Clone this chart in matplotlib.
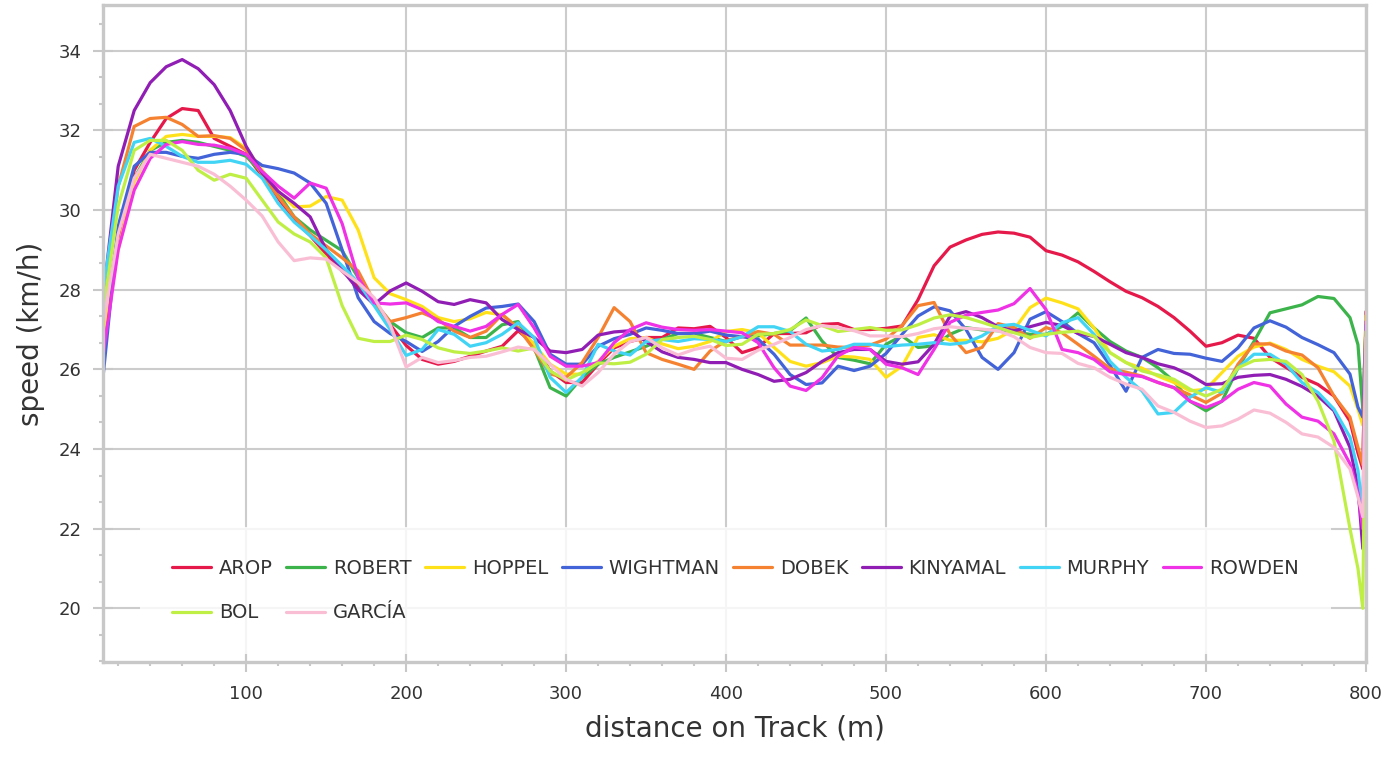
import matplotlib
matplotlib.use('Agg')
import matplotlib.pyplot as plt
from matplotlib.ticker import MultipleLocator, AutoMinorLocator

# distance along the track (m)
distance = [10, 20, 30, 40, 50, 60, 70, 80, 90, 100,
            110, 120, 130, 140, 150, 160, 170, 180, 190, 200,
            210, 220, 230, 240, 250, 260, 270, 280, 290, 300,
            310, 320, 330, 340, 350, 360, 370, 380, 390, 400,
            410, 420, 430, 440, 450, 460, 470, 480, 490, 500,
            510, 520, 530, 540, 550, 560, 570, 580, 590, 600,
            610, 620, 630, 640, 650, 660, 670, 680, 690, 700,
            710, 720, 730, 740, 750, 760, 770, 780, 790,
            795, 798, 800]

arop = [26.4, 29.3, 31.0, 31.7, 32.3, 32.55, 32.5, 31.8, 31.6, 31.4,
        30.85, 30.3, 29.75, 29.36, 28.9, 28.47, 28.1, 27.7, 27.12, 26.6,
        26.25, 26.13, 26.2, 26.33, 26.46, 26.58, 26.97, 26.63, 25.96, 25.67,
        25.67, 26.13, 26.54, 26.7, 26.8, 26.8, 27.04, 27.02, 27.08, 26.8,
        26.42, 26.55, 26.9, 26.9, 26.92, 27.13, 27.15, 27.0, 27.0, 27.03,
        27.09, 27.75, 28.6, 29.07, 29.25, 29.39, 29.45, 29.42, 29.32, 28.98,
        28.87, 28.7, 28.46, 28.2, 27.96, 27.8, 27.58, 27.3, 26.96, 26.58,
        26.67, 26.86, 26.78, 26.3, 26.05, 25.8, 25.62, 25.33, 24.7,
        23.9, 23.5, 27.45]

robert = [26.8, 29.5, 30.8, 31.5, 31.7, 31.75, 31.7, 31.6, 31.5, 31.35,
          30.93, 30.42, 29.83, 29.5, 29.24, 28.98, 28.3, 27.7, 27.2, 26.92,
          26.8, 27.04, 27.04, 26.8, 26.8, 27.12, 27.2, 26.54, 25.54, 25.33,
          25.8, 26.13, 26.3, 26.44, 26.58, 26.75, 26.9, 26.9, 26.8, 26.7,
          26.83, 26.84, 26.9, 26.97, 27.29, 26.71, 26.3, 26.23, 26.14, 26.63,
          26.84, 26.55, 26.59, 26.88, 27.05, 26.99, 26.97, 26.94, 26.88, 26.88,
          27.08, 27.42, 27.04, 26.7, 26.46, 26.3, 26.04, 25.7, 25.2, 24.96,
          25.2, 26.04, 26.7, 27.42, 27.52, 27.62, 27.83, 27.78, 27.3,
          26.62, 25.0, 27.1]

hoppel = [26.8, 29.0, 30.7, 31.5, 31.85, 31.9, 31.85, 31.85, 31.82, 31.55,
          31.0, 30.47, 30.08, 30.1, 30.34, 30.25, 29.5, 28.3, 27.9, 27.75,
          27.58, 27.3, 27.2, 27.27, 27.43, 27.37, 27.04, 26.63, 26.13, 25.88,
          25.88, 26.2, 26.58, 26.77, 26.8, 26.64, 26.52, 26.58, 26.7, 26.95,
          27.0, 26.92, 26.55, 26.2, 26.08, 26.17, 26.33, 26.31, 26.25, 25.8,
          26.08, 26.8, 26.87, 26.73, 26.73, 26.69, 26.78, 27.0, 27.55, 27.79,
          27.67, 27.52, 27.04, 26.42, 26.17, 26.03, 25.83, 25.67, 25.46, 25.5,
          25.92, 26.33, 26.56, 26.66, 26.5, 26.25, 26.08, 25.94, 25.58,
          25.0, 24.6, 27.35]

wightman = [25.6, 29.6, 31.1, 31.45, 31.45, 31.35, 31.3, 31.4, 31.45, 31.4,
            31.12, 31.04, 30.93, 30.68, 30.17, 29.0, 27.8, 27.2, 26.9, 26.7,
            26.45, 26.7, 27.08, 27.33, 27.54, 27.58, 27.64, 27.2, 26.38, 26.13,
            26.13, 26.58, 26.77, 26.88, 27.04, 26.98, 26.9, 26.9, 26.96, 26.86,
            26.82, 26.76, 26.38, 25.87, 25.62, 25.66, 26.08, 25.97, 26.08, 26.4,
            26.88, 27.34, 27.57, 27.47, 27.0, 26.3, 26.0, 26.42, 27.26, 27.45,
            27.2, 26.9, 26.67, 26.1, 25.45, 26.3, 26.5, 26.4, 26.38, 26.28,
            26.2, 26.54, 27.04, 27.22, 27.06, 26.8, 26.62, 26.42, 25.88,
            25.05, 24.8, 27.1]

dobek = [27.5, 30.6, 32.1, 32.3, 32.33, 32.15, 31.85, 31.87, 31.8, 31.5,
         30.9, 30.34, 29.83, 29.4, 29.1, 28.8, 28.47, 27.7, 27.2, 27.3,
         27.42, 27.25, 26.96, 26.8, 26.96, 27.38, 27.04, 26.5, 25.88, 25.8,
         26.17, 26.8, 27.55, 27.2, 26.42, 26.25, 26.13, 26.0, 26.46, 26.72,
         26.82, 26.95, 26.88, 26.61, 26.61, 26.61, 26.56, 26.55, 26.61, 26.76,
         27.1, 27.6, 27.68, 26.88, 26.42, 26.55, 27.15, 27.05, 26.78, 27.05,
         26.92, 26.63, 26.33, 26.02, 25.93, 25.83, 25.67, 25.54, 25.36, 25.17,
         25.4, 26.13, 26.64, 26.64, 26.46, 26.36, 26.04, 25.33, 24.8,
         24.04, 23.6, 27.2]

kinyamal = [27.6, 31.1, 32.5, 33.2, 33.6, 33.78, 33.55, 33.15, 32.5, 31.6,
            30.93, 30.47, 30.17, 29.83, 29.0, 28.5, 28.0, 27.63, 27.97, 28.17,
            27.96, 27.7, 27.63, 27.75, 27.67, 27.25, 27.0, 26.8, 26.46, 26.42,
            26.5, 26.86, 26.94, 26.97, 26.7, 26.44, 26.3, 26.25, 26.17, 26.17,
            26.0, 25.87, 25.7, 25.75, 25.92, 26.2, 26.42, 26.5, 26.5, 26.2,
            26.13, 26.19, 26.63, 27.34, 27.45, 27.3, 27.07, 26.97, 27.07, 27.18,
            27.1, 26.9, 26.83, 26.63, 26.42, 26.3, 26.14, 26.04, 25.86, 25.62,
            25.64, 25.8, 25.85, 25.87, 25.75, 25.57, 25.33, 24.96, 24.04,
            23.04, 21.5, 27.1]

murphy = [27.8, 30.6, 31.7, 31.8, 31.6, 31.35, 31.2, 31.2, 31.25, 31.15,
          30.8, 30.17, 29.7, 29.36, 29.0, 28.6, 28.18, 27.6, 27.0, 26.35,
          26.5, 27.0, 26.88, 26.58, 26.67, 26.88, 27.17, 26.8, 25.8, 25.42,
          25.8, 26.63, 26.46, 26.36, 26.7, 26.75, 26.7, 26.77, 26.75, 26.7,
          26.82, 27.07, 27.07, 26.95, 26.63, 26.46, 26.5, 26.63, 26.63, 26.57,
          26.61, 26.63, 26.67, 26.63, 26.67, 26.84, 27.09, 27.13, 26.98, 26.84,
          27.17, 27.3, 26.88, 26.2, 25.8, 25.46, 24.88, 24.92, 25.3, 25.54,
          25.42, 26.04, 26.38, 26.38, 26.13, 25.67, 25.42, 25.0, 24.3,
          23.46, 22.4, 27.1]

rowden = [26.2, 29.0, 30.5, 31.3, 31.65, 31.72, 31.65, 31.63, 31.55, 31.4,
          30.97, 30.6, 30.3, 30.68, 30.55, 29.66, 28.3, 27.67, 27.64, 27.67,
          27.5, 27.2, 27.08, 26.96, 27.08, 27.38, 27.63, 27.04, 26.33, 26.08,
          26.08, 26.17, 26.67, 27.0, 27.17, 27.06, 27.0, 26.98, 27.0, 26.96,
          26.92, 26.67, 26.04, 25.58, 25.47, 25.79, 26.34, 26.55, 26.5, 26.13,
          26.04, 25.87, 26.5, 27.18, 27.36, 27.43, 27.49, 27.65, 28.03, 27.5,
          26.5, 26.42, 26.25, 25.94, 25.87, 25.82, 25.67, 25.54, 25.2, 25.04,
          25.2, 25.5, 25.67, 25.58, 25.13, 24.8, 24.7, 24.38, 23.63,
          22.9, 22.0, 27.2]

bol = [27.3, 30.1, 31.5, 31.75, 31.75, 31.5, 31.0, 30.75, 30.9, 30.8,
       30.25, 29.7, 29.4, 29.2, 28.8, 27.6, 26.78, 26.7, 26.7, 26.86,
       26.75, 26.54, 26.44, 26.4, 26.46, 26.54, 26.46, 26.54, 25.96, 25.73,
       25.92, 26.16, 26.14, 26.18, 26.38, 26.75, 26.8, 26.83, 26.75, 26.6,
       26.63, 26.88, 26.9, 27.0, 27.24, 27.1, 26.95, 27.0, 27.05, 26.98,
       26.99, 27.12, 27.29, 27.37, 27.3, 27.18, 27.05, 26.92, 26.8, 26.88,
       26.93, 26.96, 26.83, 26.42, 26.17, 25.96, 25.86, 25.75, 25.5, 25.33,
       25.5, 26.04, 26.22, 26.25, 26.2, 25.87, 25.2, 24.2, 22.0,
       21.0, 20.0, 26.95]

garcia = [27.0, 29.4, 30.8, 31.4, 31.3, 31.2, 31.1, 30.9, 30.6, 30.25,
          29.85, 29.2, 28.73, 28.8, 28.77, 28.47, 28.18, 27.8, 27.12, 26.06,
          26.3, 26.17, 26.22, 26.3, 26.33, 26.44, 26.56, 26.5, 26.13, 25.75,
          25.58, 25.92, 26.38, 26.7, 26.8, 26.54, 26.36, 26.5, 26.58, 26.28,
          26.25, 26.48, 26.63, 26.8, 27.0, 27.1, 27.05, 26.97, 26.84, 26.84,
          26.82, 26.9, 27.02, 27.07, 27.03, 27.01, 26.97, 26.82, 26.55, 26.42,
          26.4, 26.15, 26.04, 25.8, 25.63, 25.5, 25.08, 24.92, 24.7, 24.54,
          24.58, 24.75, 24.98, 24.9, 24.67, 24.38, 24.3, 24.04, 23.5,
          22.8, 22.3, 26.8]

names = ['AROP', 'ROBERT', 'HOPPEL', 'WIGHTMAN', 'DOBEK',
         'KINYAMAL', 'MURPHY', 'ROWDEN', 'BOL', 'GARCÍA']
series = [arop, robert, hoppel, wightman, dobek,
          kinyamal, murphy, rowden, bol, garcia]
colors = ['#e6194b', '#3cb44b', '#ffe119', '#4363d8', '#f58231',
          '#911eb4', '#42d4f4', '#f032e6', '#bfef45', '#fabed4']

plt.rcParams['font.family'] = ['DejaVu Sans']
grey = '#c8c8c8'
txt = '#333333'

fig = plt.figure(figsize=(13.92, 7.6), dpi=100)
ax = fig.add_axes([0.074, 0.1289, 0.9073, 0.8645])

lines = []
for name, vals, c in zip(names, series, colors):
    ln, = ax.plot(distance, vals, color=c, lw=2.3, label=name,
                  solid_joinstyle='round', solid_capstyle='round')
    lines.append(ln)

ax.set_xlim(10.5, 800)
ax.set_ylim(18.65, 35.15)
ax.xaxis.set_major_locator(MultipleLocator(100))
ax.xaxis.set_minor_locator(AutoMinorLocator(5))
ax.yaxis.set_major_locator(MultipleLocator(2))
ax.yaxis.set_minor_locator(AutoMinorLocator(3))

ax.set_axisbelow(True)
ax.grid(True, which='major', color='#cccccc', lw=1.5)
for s in ax.spines.values():
    s.set_color(grey)
    s.set_linewidth(2.4)

ax.tick_params(which='major', direction='inout', length=15, width=1.5,
               color=grey, labelcolor=txt, labelsize=13)
ax.tick_params(axis='x', which='major', pad=9)
ax.tick_params(axis='y', which='major', pad=8)
ax.tick_params(which='minor', direction='out', length=3, width=1.5, color=grey)

ax.set_xlabel('distance on Track (m)', fontsize=20, color=txt, labelpad=8)
ax.set_ylabel('speed (km/h)', fontsize=20, color=txt, labelpad=10)

# legend fills column by column, so order entries to read row by row
order = [0, 8, 1, 9, 2, 3, 4, 5, 6, 7]
leg = ax.legend([lines[i] for i in order], [names[i] for i in order],
                ncol=8, loc='upper left', bbox_to_anchor=(0.0293, 0.2055),
                borderaxespad=0, fontsize=14, frameon=True, fancybox=False,
                framealpha=0.82, edgecolor='none', facecolor='white',
                handlelength=2.0, handletextpad=0.4, columnspacing=0.7,
                labelspacing=1.3, borderpad=1.65)
for t in leg.get_texts():
    t.set_color(txt)

plt.savefig('out.png', dpi=100)
